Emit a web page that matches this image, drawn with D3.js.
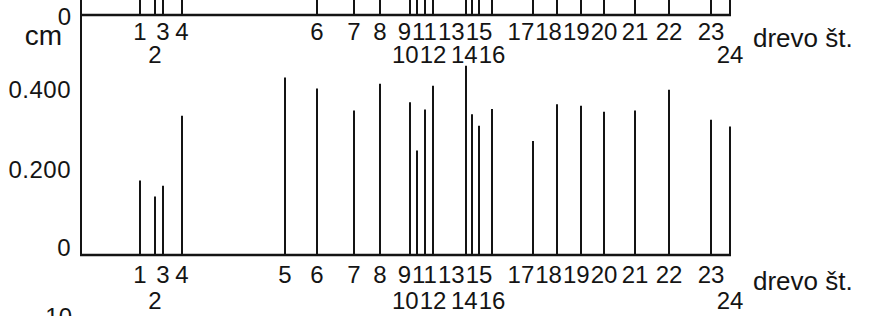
<!DOCTYPE html>
<html>
<head>
<meta charset="utf-8">
<script src="https://cdn.jsdelivr.net/npm/d3@7"></script>
<style>
  html, body { margin: 0; padding: 0; background: #fff; }
  svg { display: block; }
</style>
</head>
<body>
<div id="chart"></div>
<script>
// tree numbers and their place along the transect (m)
const trees = [1, 2, 3, 4, 5, 6, 7, 8, 9, 10, 11, 12, 13, 14, 15, 16, 17, 18, 19, 20, 21, 22, 23, 24];
const positions = [6.0, 7.5, 8.3, 10.2, 20.5, 23.7, 27.4, 30.0, 33.0, 33.7, 34.5, 35.3,
                   38.6, 39.2, 39.9, 41.2, 45.3, 47.7, 50.1, 52.4, 55.5, 58.9, 63.1, 65.0];
// lower panel values (cm)
const values = [0.186, 0.146, 0.173, 0.348, 0.444, 0.416, 0.361, 0.428, 0.382, 0.261, 0.364, 0.423,
                0.473, 0.352, 0.323, 0.365, 0.285, 0.377, 0.373, 0.358, 0.361, 0.413, 0.338, 0.321];
// upper panel (only its base is visible, bars run off the top)
const upperTrees = [1, 2, 3, 4, 6, 7, 8, 9, 10, 11, 12, 13, 14, 15, 16, 17, 18, 19, 20, 21, 22, 23, 24];
const yTicks = [0, 0.2, 0.4];
const yTickLabels = ["0", "0.200", "0.400"];
const secondRowTrees = [2, 10, 12, 14, 16, 24];
const xTitle = "drevo št.";
const yUnit = "cm";

const width = 869, height = 316;
const ink = "#141414";
const labelFont = "'Liberation Sans Narrow', 'Liberation Sans', Arial, sans-serif";
const textFont = "'Liberation Sans', Arial, sans-serif";

const svg = d3.select("#chart").append("svg")
    .attr("width", width)
    .attr("height", height);

svg.append("rect").attr("width", width).attr("height", height).attr("fill", "#fff");

const x = d3.scaleLinear().domain([0, 65]).range([80, 730]);
const yLow = d3.scaleLinear().domain([0, 0.5]).range([255, 55]);
const yUp = d3.scaleLinear().domain([0, 0.05]).range([15, -5]);

const posOf = {};
trees.forEach((t, i) => posOf[t] = positions[i]);

// y axis line, runs through both panels
svg.append("line")
    .attr("x1", x(0) + 1).attr("x2", x(0) + 1)
    .attr("y1", 0).attr("y2", yLow(0) + 1)
    .attr("stroke", ink).attr("stroke-width", 2);

drawUpper();
drawLower();

function drawUpper() {
    let g = svg.append("g");
    g.selectAll("line.bar").data(upperTrees).enter().append("line")
        .attr("class", "bar")
        .attr("x1", d => x(posOf[d])).attr("x2", d => x(posOf[d]))
        .attr("y1", yUp(0)).attr("y2", yUp.range()[1])
        .attr("stroke", ink).attr("stroke-width", 2);

    g.append("line")
        .attr("x1", x(0)).attr("x2", x(65) + 1)
        .attr("y1", yUp(0)).attr("y2", yUp(0))
        .attr("stroke", ink).attr("stroke-width", 2.5);

    g.append("text")
        .attr("x", 71).attr("y", yUp(0) + 10)
        .attr("text-anchor", "end")
        .style("font-family", textFont).style("font-size", "24px")
        .attr("fill", ink)
        .text("0");

    g.append("text")
        .attr("x", 62).attr("y", 45)
        .attr("text-anchor", "end")
        .style("font-family", textFont).style("font-size", "28px")
        .attr("fill", ink)
        .text(yUnit);

    treeLabels(g, upperTrees, yUp(0) + 25, yUp(0) + 48);

    g.append("text")
        .attr("x", 753).attr("y", yUp(0) + 32)
        .style("font-family", textFont).style("font-size", "26px")
        .attr("fill", ink)
        .text(xTitle);
}

function drawLower() {
    let g = svg.append("g");
    g.selectAll("line.bar").data(trees).enter().append("line")
        .attr("class", "bar")
        .attr("x1", d => x(posOf[d])).attr("x2", d => x(posOf[d]))
        .attr("y1", yLow(0)).attr("y2", (d, i) => yLow(values[i]))
        .attr("stroke", ink).attr("stroke-width", 2);

    g.append("line")
        .attr("x1", x(0)).attr("x2", x(65) + 1)
        .attr("y1", yLow(0)).attr("y2", yLow(0))
        .attr("stroke", ink).attr("stroke-width", 2.5);

    g.selectAll("text.ytick").data(yTicks).enter().append("text")
        .attr("class", "ytick")
        .attr("x", 71)
        .attr("y", d => yLow(d) + (d === 0 ? 1 : 3))
        .attr("text-anchor", "end")
        .style("font-family", textFont).style("font-size", "24px")
        .style("letter-spacing", "0.5px")
        .attr("fill", ink)
        .text((d, i) => yTickLabels[i]);

    treeLabels(g, trees, yLow(0) + 28, yLow(0) + 54);

    g.append("text")
        .attr("x", 753).attr("y", yLow(0) + 35)
        .style("font-family", textFont).style("font-size", "26px")
        .attr("fill", ink)
        .text(xTitle);

    // start of the next chart's axis, cut by the page edge
    g.append("text")
        .attr("x", 72).attr("y", 325)
        .attr("text-anchor", "end")
        .style("font-family", textFont).style("font-size", "24px")
        .attr("fill", ink)
        .text("10");
}

function treeLabels(g, list, row1, row2) {
    let rows = [list.filter(t => secondRowTrees.indexOf(t) < 0), list.filter(t => secondRowTrees.indexOf(t) >= 0)];
    rows.forEach((row, r) => {
        let sel = g.selectAll("text.row" + r).data(row).enter().append("text")
            .attr("class", "row" + r)
            .attr("x", d => x(posOf[d]))
            .attr("y", r === 0 ? row1 : row2)
            .attr("text-anchor", "middle")
            .style("font-family", labelFont).style("font-size", "24px")
            .attr("fill", ink)
            .text(d => d);
        spreadLabels(sel);
    });
}

// push crowded labels to the left so they do not run into each other
function spreadLabels(sel) {
    let items = sel.nodes().map(n => ({node: n, w: n.getComputedTextLength(), cx: +n.getAttribute("x")}));
    items.sort((a, b) => a.cx - b.cx);
    for (let i = items.length - 2; i >= 0; i--) {
        let nextLeft = items[i + 1].cx - items[i + 1].w / 2;
        if (items[i].cx + items[i].w / 2 > nextLeft - 1) {
            items[i].cx = nextLeft - 1 - items[i].w / 2;
        }
    }
    items.forEach(it => it.node.setAttribute("x", it.cx));
}
</script>
</body>
</html>
